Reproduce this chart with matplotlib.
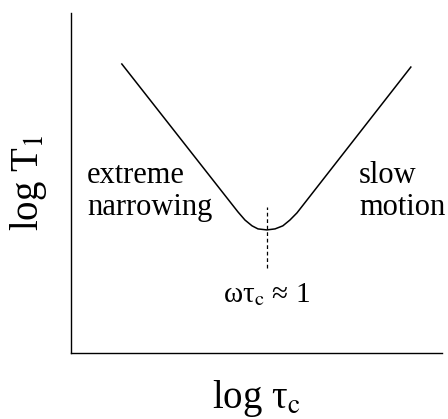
import numpy as np
import matplotlib
matplotlib.use("Agg")
import matplotlib.pyplot as plt

# curve (axes units 0..10 both ways)
curve_x = [1.37, 4.50, 4.69, 4.88, 5.04, 5.28, 5.50, 5.71, 5.90, 6.09, 9.16]
curve_y = [8.50, 4.15, 3.91, 3.74, 3.65, 3.62, 3.65, 3.74, 3.91, 4.12, 8.41]

# omega*tau_c = 1 marker
min_tau = 5.28
dash_y = [2.50, 4.29]

left_label = ["extreme", "narrowing"]
right_label = ["slow", "motion"]

plt.rcParams['font.family'] = 'serif'
plt.rcParams['font.serif'] = ['Liberation Serif', 'DejaVu Serif']
plt.rcParams['mathtext.fontset'] = 'stix'

fig = plt.figure(figsize=(4.48, 4.19), dpi=100)
ax = fig.add_axes([71/448, 66/419, 371/448, 340/419])

ax.plot(curve_x, curve_y, color='black', lw=1.1, solid_joinstyle='round')
ax.plot([min_tau, min_tau], dash_y, color='black', lw=0.9, dashes=(3, 2.2))

ax.text(0.43, 5.0, left_label[0], fontsize=22, va='baseline')
ax.text(0.43, 4.06, left_label[1], fontsize=22, va='baseline')
ax.text(7.76, 5.0, right_label[0], fontsize=22, va='baseline')
ax.text(7.76, 4.06, right_label[1], fontsize=22, va='baseline', clip_on=False)
ax.text(min_tau, 1.5, 'ωτ$_\\mathrm{c}$ ≈ 1', fontsize=21, va='baseline', ha='center')

ax.set_xlim(0, 10)
ax.set_ylim(0, 10)
ax.set_xticks([])
ax.set_yticks([])
ax.spines['top'].set_visible(False)
ax.spines['right'].set_visible(False)
for s in ['left', 'bottom']:
    ax.spines[s].set_linewidth(1.0)

ax.set_xlabel('log τ$_\\mathrm{c}$', fontsize=28, labelpad=18)
ax.set_ylabel('log T$_\\mathrm{1}$', fontsize=28, labelpad=16)

fig.savefig('out.png', dpi=100)
